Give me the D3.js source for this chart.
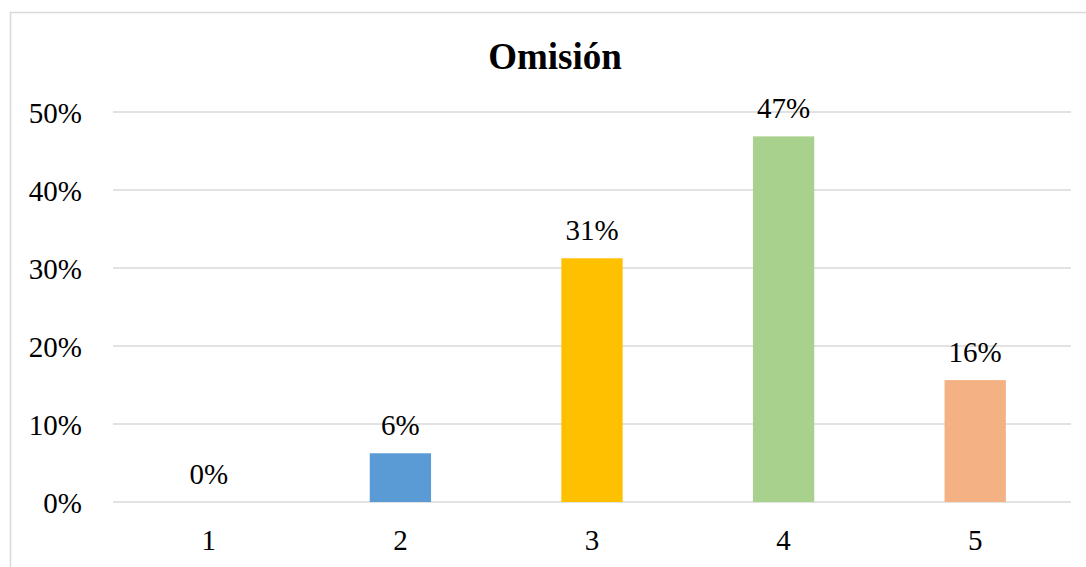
<!DOCTYPE html>
<html>
<head>
<meta charset="utf-8">
<script src="https://cdn.jsdelivr.net/npm/d3@7/dist/d3.min.js"></script>
<style>
  body { margin: 0; background: #fff; }
  text { font-family: "Liberation Serif", "Times New Roman", serif; fill: #000; }
</style>
</head>
<body>
<div id="chart"></div>
<script>
var categories = ['1', '2', '3', '4', '5'];
var values = [0, 0.0625, 0.3125, 0.46875, 0.15625];
var barColors = ['#5b9bd5', '#5b9bd5', '#ffc000', '#a9d18e', '#f4b183'];
var yTicks = [0, 0.1, 0.2, 0.3, 0.4, 0.5];
var title = 'Omisión';

var width = 1086, height = 567;
var margin = {top: 112, right: 15, bottom: 65, left: 113};

var svg = d3.select('#chart').append('svg')
    .attr('width', width)
    .attr('height', height);

// chart frame (runs off the right and bottom edges)
svg.append('rect')
    .attr('x', 10.5).attr('y', 12.5)
    .attr('width', 1100).attr('height', 600)
    .attr('fill', 'none')
    .attr('stroke', '#d9d9d9')
    .attr('stroke-width', 1.5);

var x = d3.scaleBand()
    .domain(categories)
    .range([113, 1071])
    .paddingInner(0.68)
    .paddingOuter(0.34);

var y = d3.scaleLinear()
    .domain([0, 0.5])
    .range([502, 112]);

var pct = d3.format('.0%');

// gridlines
svg.append('g')
    .selectAll('line')
    .data(yTicks)
    .enter()
    .append('line')
    .attr('x1', 113).attr('x2', 1071)
    .attr('y1', function(d){ return y(d); })
    .attr('y2', function(d){ return y(d); })
    .attr('stroke', '#d9d9d9')
    .attr('stroke-width', 1.5);

// y axis labels
var yAxis = d3.axisLeft(y)
    .tickValues(yTicks)
    .tickFormat(pct)
    .tickSize(0)
    .tickPadding(0);

svg.append('g')
    .attr('transform', 'translate(82,0)')
    .call(yAxis)
    .call(function(g){ g.select('.domain').remove(); })
    .selectAll('text')
    .attr('dy', '0.35em')
    .style('font-size', '29px')
    .style('font-family', '"Liberation Serif", serif');

// x axis labels
var xAxis = d3.axisBottom(x)
    .tickSize(0)
    .tickPadding(0);

svg.append('g')
    .attr('transform', 'translate(0,502)')
    .call(xAxis)
    .call(function(g){ g.select('.domain').remove(); })
    .selectAll('text')
    .attr('y', 48)
    .attr('dy', 0)
    .style('font-size', '29px')
    .style('font-family', '"Liberation Serif", serif');

// bars
svg.append('g')
    .selectAll('rect')
    .data(values)
    .enter()
    .append('rect')
    .attr('x', function(d, i){ return x(categories[i]); })
    .attr('y', function(d){ return y(d); })
    .attr('width', x.bandwidth())
    .attr('height', function(d){ return y(0) - y(d); })
    .attr('fill', function(d, i){ return barColors[i]; });

// value labels
svg.append('g')
    .selectAll('text')
    .data(values)
    .enter()
    .append('text')
    .attr('x', function(d, i){ return x(categories[i]) + x.bandwidth() / 2; })
    .attr('y', function(d){ return y(d) - 18; })
    .attr('text-anchor', 'middle')
    .style('font-size', '29px')
    .text(function(d){ return pct(d); });

// title
svg.append('text')
    .attr('x', 555)
    .attr('y', 69)
    .attr('text-anchor', 'middle')
    .style('font-size', '37px')
    .style('font-weight', 'bold')
    .text(title);
</script>
</body>
</html>
